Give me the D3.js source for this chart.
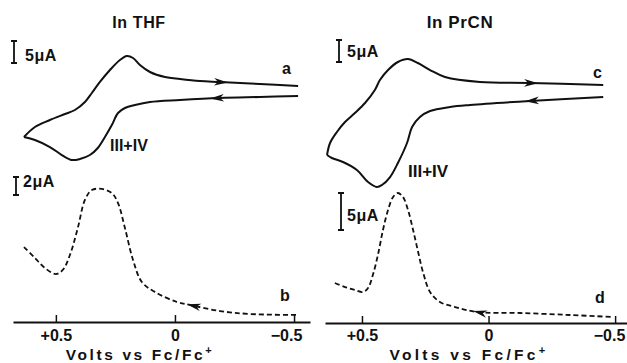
<!DOCTYPE html>
<html>
<head>
<meta charset="utf-8">
<script src="https://cdn.jsdelivr.net/npm/d3@7"></script>
<style>
body { margin: 0; background: #fff; }
svg { display: block; }
text { font-family: "Liberation Sans", Arial, sans-serif; font-weight: bold; fill: #111; }
</style>
</head>
<body>
<div id="chart"></div>
<script>
// potential (V vs Fc/Fc+), current (uA)
var thfForward = [[0.634,-10.45],[0.588,-8.18],[0.525,-6.59],[0.462,-5.23],[0.420,-4.32],[0.378,-2.5],[0.349,-0.45],[0.315,2.05],[0.273,4.77],[0.231,7.05],[0.202,7.95],[0.176,7.5],[0.147,5.91],[0.105,4.32],[0.042,3.18],[-0.021,2.73],[-0.105,2.27],[-0.189,2.05],[-0.357,1.59],[-0.517,1.14]];
var thfReverse = [[-0.517,-1.14],[-0.357,-1.36],[-0.189,-1.59],[-0.021,-2.05],[0.105,-2.5],[0.168,-3.18],[0.210,-3.86],[0.239,-5.0],[0.265,-7.73],[0.294,-10.45],[0.324,-12.95],[0.357,-14.55],[0.399,-15.45],[0.433,-15.68],[0.475,-14.55],[0.525,-12.73],[0.588,-11.14],[0.634,-10.45]];
var thfDpv = [[0.634,8.33],[0.588,7.11],[0.546,6.0],[0.500,5.33],[0.471,5.78],[0.441,7.44],[0.408,10.44],[0.378,13.56],[0.349,14.67],[0.307,14.78],[0.265,14.33],[0.239,13.22],[0.210,10.44],[0.176,6.89],[0.139,4.44],[0.084,3.33],[-0.008,2.22],[-0.063,1.89],[-0.189,1.22],[-0.315,0.89],[-0.513,0.78]];

var prcnForward = [[0.638,-14.55],[0.626,-11.82],[0.599,-9.32],[0.567,-7.05],[0.528,-5.0],[0.488,-2.73],[0.449,0.23],[0.429,2.5],[0.397,4.77],[0.358,6.59],[0.318,7.27],[0.279,6.36],[0.231,4.77],[0.172,3.18],[0.034,2.05],[-0.164,1.82],[-0.453,1.36]];
var prcnReverse = [[-0.453,-1.36],[-0.164,-2.27],[0.073,-3.18],[0.152,-3.64],[0.231,-4.55],[0.271,-5.91],[0.302,-8.18],[0.322,-11.82],[0.358,-16.36],[0.389,-19.55],[0.421,-21.36],[0.441,-21.82],[0.476,-20.68],[0.520,-17.95],[0.575,-16.14],[0.619,-15.23],[0.638,-14.55]];
var prcnDpv = [[0.607,5.41],[0.567,4.86],[0.528,4.46],[0.496,4.19],[0.476,4.73],[0.457,6.49],[0.437,9.19],[0.417,12.57],[0.397,15.27],[0.377,17.03],[0.358,17.57],[0.338,17.03],[0.318,15.27],[0.298,12.57],[0.279,9.73],[0.259,6.89],[0.231,4.19],[0.192,2.84],[0.132,2.16],[0.045,1.49],[-0.125,1.35],[-0.322,1.08],[-0.492,0.81]];

var tickValues = [0.5, 0, -0.5];
var tickLabels = ["+0.5", "0", "\u22120.5"];

var svg = d3.select("#chart").append("svg").attr("width", 627).attr("height", 363);

var panels = [
  { title: "In THF", titleX: 139, fs: 16, xDomain: [0.68, -0.567], xRange: [13, 310], axisY: 322,
    cvZero: 91, cvPx: 4.4, cvBar: 5, cvBarX: 14, cvBarY: 41, cvBarDy: 20, cvBarDx: 11,
    fwd: thfForward, rev: thfReverse, arrowFwd: -0.223, arrowRev: -0.147, cvLabel: "a", cvLabelX: 282, cvLabelY: 74,
    ionX: 110, ionY: 151,
    dpv: thfDpv, dpvZero: 322, dpvPx: 9, dpvBar: 2, dpvBarX: 16, dpvBarY: 177, dpvBarDy: 10, dpvBarDx: 7, arrowDpv: -0.05,
    dpvLabel: "b", dpvLabelX: 280, dpvLabelY: 301,
    voltsX: 140, voltsSpacing: 2.6, tickPad: 8, lastTickX: 286 },
  { title: "In PrCN", titleX: 460, fs: 17, xDomain: [0.646, -0.547], xRange: [325, 627], axisY: 323,
    cvZero: 91, cvPx: 4.4, cvBar: 5, cvBarX: 339, cvBarY: 40, cvBarDy: 17, cvBarDx: 8,
    fwd: prcnForward, rev: prcnReverse, arrowFwd: -0.196, arrowRev: -0.144, cvLabel: "c", cvLabelX: 593, cvLabelY: 78,
    ionX: 408, ionY: 177,
    dpv: prcnDpv, dpvZero: 323, dpvPx: 7.4, dpvBar: 5, dpvBarX: 341, dpvBarY: 193, dpvBarDy: 28, dpvBarDx: 6, arrowDpv: 0.061,
    dpvLabel: "d", dpvLabelX: 595, dpvLabelY: 303,
    voltsX: 469, voltsSpacing: 3.3, tickPad: 7, lastTickX: 609 }
];

// arrowhead on a curve at potential v, pointing along dir (+1 toward right)
function arrowAt(g, pts, v, x, y, dir) {
  for (var k = 0; k < pts.length - 1; k++) {
    var a = pts[k], b = pts[k + 1];
    if ((a[0] - v) * (b[0] - v) <= 0) {
      var t = (v - a[0]) / (b[0] - a[0]);
      var px = x(v), py = y(a[1] + t * (b[1] - a[1]));
      var ang = Math.atan2(y(b[1]) - y(a[1]), x(b[0]) - x(a[0])) * 180 / Math.PI;
      if ((x(b[0]) - x(a[0])) * dir < 0) ang += 180;
      g.append("path")
        .attr("d", "M0,0 L-14,-3.8 L-10,0 L-14,3.8 Z")
        .attr("fill", "#111")
        .attr("transform", "translate(" + px + "," + py + ") rotate(" + ang + ")");
      return;
    }
  }
}

function scaleBar(g, bx, by, len, label, dx, dy, fs) {
  g.append("path")
    .attr("d", "M" + (bx - 3) + "," + by + "H" + (bx + 3) + "M" + bx + "," + by + "V" + (by + len) +
      "M" + (bx - 3) + "," + (by + len) + "H" + (bx + 3))
    .attr("stroke", "#111").attr("stroke-width", 1.8).attr("fill", "none");
  g.append("text").attr("x", bx + dx).attr("y", by + dy).attr("font-size", fs)
    .attr("letter-spacing", 0.5).text(label);
}

panels.forEach(function(p) {
  var g = svg.append("g");
  var x = d3.scaleLinear().domain(p.xDomain).range(p.xRange);
  var yCv = d3.scaleLinear().domain([0, 1]).range([p.cvZero, p.cvZero - p.cvPx]);
  var yDpv = d3.scaleLinear().domain([0, 1]).range([p.dpvZero, p.dpvZero - p.dpvPx]);

  g.append("text").attr("x", p.titleX).attr("y", 28).attr("text-anchor", "middle")
    .attr("font-size", p.fs).attr("letter-spacing", 0.6).text(p.title);

  // cyclic voltammogram
  var cvLine = d3.line().x(function(d) { return x(d[0]); }).y(function(d) { return yCv(d[1]); })
    .curve(d3.curveCatmullRom.alpha(0.5));
  [p.fwd, p.rev].forEach(function(tr) {
    g.append("path").attr("d", cvLine(tr)).attr("fill", "none")
      .attr("stroke", "#111").attr("stroke-width", 2);
  });
  arrowAt(g, p.fwd, p.arrowFwd, x, yCv, 1);
  arrowAt(g, p.rev, p.arrowRev, x, yCv, -1);
  scaleBar(g, p.cvBarX, p.cvBarY, yCv(0) - yCv(p.cvBar), p.cvBar + "\u03bcA", p.cvBarDx, p.cvBarDy, 16);
  g.append("text").attr("x", p.cvLabelX).attr("y", p.cvLabelY).attr("font-size", 16).text(p.cvLabel);
  g.append("text").attr("x", p.ionX).attr("y", p.ionY).attr("font-size", p.fs).text("III+IV");

  // differential pulse trace
  var dpvLine = d3.line().x(function(d) { return x(d[0]); }).y(function(d) { return yDpv(d[1]); })
    .curve(d3.curveCatmullRom.alpha(0.5));
  g.append("path").attr("d", dpvLine(p.dpv)).attr("fill", "none")
    .attr("stroke", "#111").attr("stroke-width", 1.8).attr("stroke-dasharray", "5,3");
  arrowAt(g, p.dpv, p.arrowDpv, x, yDpv, -1);
  scaleBar(g, p.dpvBarX, p.dpvBarY, yDpv(0) - yDpv(p.dpvBar), p.dpvBar + "\u03bcA", p.dpvBarDx, p.dpvBarDy, 16);
  g.append("text").attr("x", p.dpvLabelX).attr("y", p.dpvLabelY).attr("font-size", 16).text(p.dpvLabel);

  // axis
  var axis = d3.axisBottom(x).tickValues(tickValues)
    .tickFormat(function(d, i) { return tickLabels[i]; })
    .tickSize(-7).tickSizeOuter(0).tickPadding(p.tickPad);
  var ax = g.append("g").attr("transform", "translate(0," + p.axisY + ")").call(axis);
  ax.select(".domain").attr("stroke", "#111").attr("stroke-width", 2);
  ax.selectAll(".tick line").attr("stroke", "#111").attr("stroke-width", 1.5);
  ax.selectAll(".tick text").attr("font-size", 16).attr("font-family", null).attr("fill", "#111");
  // last label sits a little left of its tick, as in the original
  ax.selectAll(".tick text").filter(function(d) { return d === -0.5; })
    .attr("x", p.lastTickX - x(-0.5));

  var lab = g.append("text").attr("x", p.voltsX).attr("y", 359.5).attr("text-anchor", "middle")
    .attr("font-size", 15.5).attr("letter-spacing", p.voltsSpacing);
  lab.append("tspan").text("Volts vs Fc/Fc");
  lab.append("tspan").attr("dy", -6).attr("font-size", 11).text("+");
});
</script>
</body>
</html>
